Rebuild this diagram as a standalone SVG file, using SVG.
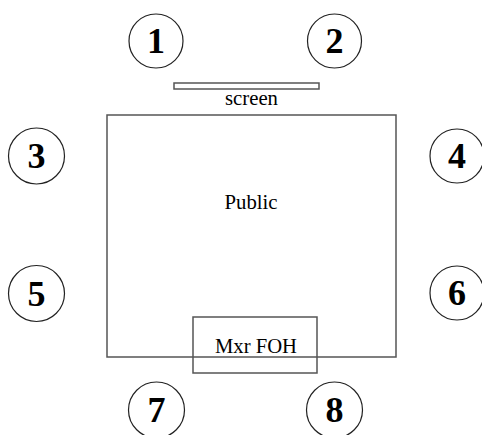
<svg xmlns="http://www.w3.org/2000/svg" width="482" height="435" viewBox="0 0 482 435">
<style>
.spk circle{fill:#fff;stroke:#222;stroke-width:1.2}
.spk text{font-weight:bold;font-size:36px;text-anchor:middle;fill:#000}
.lbl{font-size:20px;text-anchor:middle;fill:#000}
.box{fill:none;stroke:#555;stroke-width:1.5}
</style>
<rect width="482" height="435" fill="#fff"/>
<g font-family="Liberation Serif, Times New Roman, serif">
<g id="public">
<rect class="box" x="107" y="115" width="289" height="242"/>
<text class="lbl" x="251" y="209" textLength="53" lengthAdjust="spacingAndGlyphs">Public</text>
</g>
<g id="screen">
<rect class="box" x="174" y="83" width="145" height="6" fill="#fff"/>
<text class="lbl" x="251.5" y="105" textLength="53" lengthAdjust="spacingAndGlyphs">screen</text>
</g>
<g id="mxr-foh">
<rect class="box" x="193" y="317" width="124" height="56"/>
<text class="lbl" x="256" y="353" textLength="82" lengthAdjust="spacingAndGlyphs">Mxr FOH</text>
</g>
<g id="spk1" class="spk"><circle cx="156" cy="41" r="27"/><text x="156" y="53">1</text></g>
<g id="spk2" class="spk"><circle cx="334.5" cy="41" r="27"/><text x="334.5" y="53">2</text></g>
<g id="spk3" class="spk"><circle cx="36.5" cy="156" r="28"/><text x="36.5" y="168">3</text></g>
<g id="spk4" class="spk"><circle cx="457" cy="156" r="27"/><text x="457" y="168">4</text></g>
<g id="spk5" class="spk"><circle cx="36.5" cy="293.5" r="28"/><text x="36.5" y="305.5">5</text></g>
<g id="spk6" class="spk"><circle cx="457" cy="293" r="27"/><text x="457" y="305">6</text></g>
<g id="spk7" class="spk"><circle cx="156.5" cy="410" r="28"/><text x="156.5" y="422">7</text></g>
<g id="spk8" class="spk"><circle cx="334.5" cy="410" r="28"/><text x="334.5" y="422">8</text></g>
</g>
<g id="connectors"></g>
</svg>
